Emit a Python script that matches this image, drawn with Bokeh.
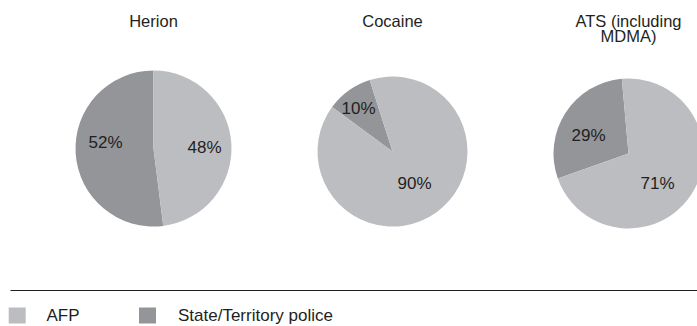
import math
from bokeh.plotting import figure
from bokeh.models import Range1d
from bokeh.core.properties import value
from bokeh.embed import file_html
from bokeh.resources import INLINE

# ---- data ----
drugs = ["Herion", "Cocaine", "ATS (including\nMDMA)"]
categories = ["AFP", "State/Territory police"]
afp_pct = [48, 90, 71]
state_pct = [52, 10, 29]

# ---- layout / style ----
W, H = 697, 326
colors = {"AFP": "#bcbdc0", "State/Territory police": "#939598"}
text_color = "#231f20"
font = value("Liberation Sans")
centers_x = [153, 392, 628]
centers_y_img = [148, 151, 153]
radii = [78, 75, 75]
state_start_deg = [90.0, 107.7, 95.1]  # where the State slice begins (math angle, anticlockwise)
title_y_img = 20
title_line_gap = 15.5
afp_label_pos = [(204, 147), (414, 183), (657, 183)]
state_label_pos = [(105, 142), (358, 108), (588, 135)]

def Y(y_img):
    return H - y_img

p = figure(width=W, height=H, output_backend="svg", toolbar_location=None,
           x_range=Range1d(0, W), y_range=Range1d(0, H), min_border=0)
p.axis.visible = False
p.grid.visible = False
p.outline_line_color = None
p.background_fill_color = "white"
p.border_fill_color = "white"

for i, name in enumerate(drugs):
    cx, cy, r = centers_x[i], Y(centers_y_img[i]), radii[i]
    s0 = math.radians(state_start_deg[i])
    s1 = s0 + 2 * math.pi * state_pct[i] / 100.0
    a1 = s1 + 2 * math.pi * afp_pct[i] / 100.0
    p.wedge(x=cx, y=cy, radius=r, start_angle=s0, end_angle=s1, direction="anticlock",
            fill_color=colors["State/Territory police"], line_color=None)
    p.wedge(x=cx, y=cy, radius=r, start_angle=s1, end_angle=a1, direction="anticlock",
            fill_color=colors["AFP"], line_color=None)
    # title
    lines = name.split("\n")
    for k, ln in enumerate(lines):
        p.text(x=[cx], y=[Y(title_y_img + k * title_line_gap)], text=[ln], text_font=font,
               text_font_size="16.5px", text_color=text_color, text_align="center",
               text_baseline="middle")
    # labels
    ax, ay = afp_label_pos[i]
    sx, sy = state_label_pos[i]
    p.text(x=[ax, sx], y=[Y(ay), Y(sy)], text=[f"{afp_pct[i]}%", f"{state_pct[i]}%"],
           text_font=font, text_font_size="17px", text_color=text_color,
           text_align="center", text_baseline="middle")

# separator line
p.segment(x0=[10], y0=[Y(290)], x1=[W], y1=[Y(290)], line_color="#231f20", line_width=1)

# legend
leg_sq_x = [16.7, 147]
leg_txt_x = [46, 177.5]
leg_y = Y(315)
p.rect(x=leg_sq_x, y=[leg_y] * 2, width=17, height=16,
       fill_color=[colors[c] for c in categories], line_color=None)
p.text(x=leg_txt_x, y=[leg_y] * 2, text=categories, text_font=font, text_font_size="17px",
       text_color=text_color, text_align="left", text_baseline="middle")

open("out.html", "w").write(file_html(p, INLINE))
